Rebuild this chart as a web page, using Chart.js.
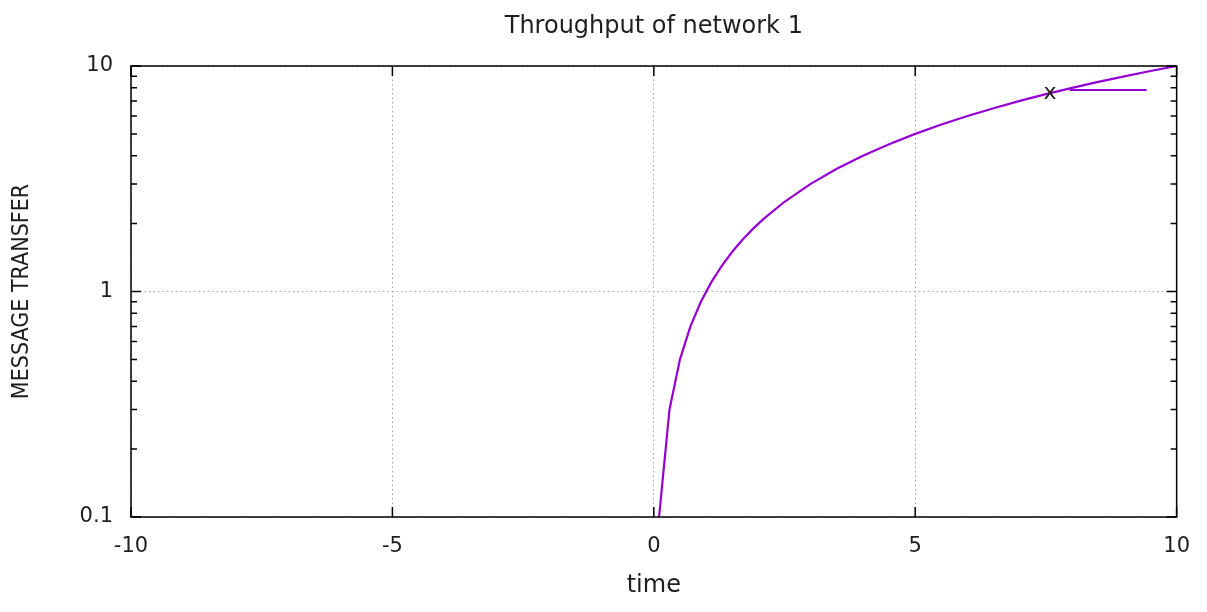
<!DOCTYPE html>
<html lang="en">
<head>
    <meta charset="UTF-8">
    <title>Throughput of network 1</title>
    <script src="https://cdn.jsdelivr.net/npm/chart.js"></script>
    <style>
        body { margin: 0; background: #fff; }
        #wrap { width: 1207px; height: 612px; }
    </style>
</head>
<body>
    <div id="wrap"><canvas id="throughputChart" width="1207" height="612"></canvas></div>

    <script>
        // values
        const timeValues = [0.1, 0.3, 0.5, 0.7, 0.9, 1.1, 1.3, 1.5, 1.7, 1.9, 2.1, 2.5, 3, 3.5, 4, 4.5, 5, 5.5, 6, 6.5, 7, 7.5, 8, 8.5, 9, 9.5, 10];
        const transferValues = [0.1, 0.3, 0.5, 0.7, 0.9, 1.1, 1.3, 1.5, 1.7, 1.9, 2.1, 2.5, 3, 3.5, 4, 4.5, 5, 5.5, 6, 6.5, 7, 7.5, 8, 8.5, 9, 9.5, 10];
        const xTickValues = [-10, -5, 0, 5, 10];
        const yMajorTicks = [0.1, 1, 10];
        const yMinorTicks = [0.2, 0.3, 0.4, 0.5, 0.6, 0.7, 0.8, 0.9, 2, 3, 4, 5, 6, 7, 8, 9];
        const seriesLabel = 'x';
        const chartTitle = 'Throughput of network 1';

        const points = timeValues.map((t, i) => ({ x: t, y: transferValues[i] }));
        const purple = '#9400d3';
        const font = 'DejaVu Sans';
        const ink = '#1e1e1e';

        // gnuplot style frame, inward ticks, title and key
        const framePlugin = {
            id: 'frame',
            afterDatasetsDraw(chart) {
                const { ctx, chartArea: a, scales: { x, y } } = chart;
                ctx.save();
                ctx.strokeStyle = '#000';
                ctx.lineWidth = 1.5;
                ctx.beginPath();
                xTickValues.forEach(v => {
                    const px = x.getPixelForValue(v);
                    ctx.moveTo(px, a.bottom); ctx.lineTo(px, a.bottom - 10);
                    ctx.moveTo(px, a.top); ctx.lineTo(px, a.top + 10);
                });
                yMajorTicks.forEach(v => {
                    const py = y.getPixelForValue(v);
                    ctx.moveTo(a.left, py); ctx.lineTo(a.left + 10, py);
                    ctx.moveTo(a.right, py); ctx.lineTo(a.right - 10, py);
                });
                yMinorTicks.forEach(v => {
                    const py = y.getPixelForValue(v);
                    ctx.moveTo(a.left, py); ctx.lineTo(a.left + 6, py);
                    ctx.moveTo(a.right, py); ctx.lineTo(a.right - 6, py);
                });
                ctx.stroke();
                ctx.strokeRect(a.left, a.top, a.right - a.left, a.bottom - a.top);

                // title, centred over the plot area
                ctx.fillStyle = ink;
                ctx.textAlign = 'center';
                ctx.textBaseline = 'middle';
                ctx.font = '24px "' + font + '"';
                ctx.fillText(chartTitle, (a.left + a.right) / 2, 27);

                // key
                ctx.font = '22px "' + font + '"';
                ctx.textAlign = 'right';
                ctx.fillText(chart.data.datasets[0].label, a.right - 120, a.top + 27);
                ctx.strokeStyle = purple;
                ctx.lineWidth = 2;
                ctx.beginPath();
                ctx.moveTo(a.right - 107, a.top + 24);
                ctx.lineTo(a.right - 30, a.top + 24);
                ctx.stroke();
                ctx.restore();
            }
        };

        new Chart(document.getElementById('throughputChart'), {
            type: 'scatter',
            data: {
                datasets: [{
                    label: seriesLabel,
                    data: points,
                    showLine: true,
                    borderColor: purple,
                    borderWidth: 2.2,
                    pointRadius: 0,
                    tension: 0
                }]
            },
            options: {
                responsive: false,
                animation: false,
                layout: { padding: { left: 0, right: 28, top: 66, bottom: 0 } },
                plugins: {
                    legend: { display: false },
                    tooltip: { enabled: false },
                    title: { display: false }
                },
                scales: {
                    x: {
                        type: 'linear',
                        min: -10,
                        max: 10,
                        afterBuildTicks: s => { s.ticks = xTickValues.map(v => ({ value: v })); },
                        afterFit: s => { s.height = 95; },
                        ticks: {
                            color: ink,
                            padding: 17,
                            maxRotation: 0,
                            font: { family: font, size: 21 },
                            callback: v => String(v)
                        },
                        grid: { color: '#a0a0a0', lineWidth: 1, drawTicks: false },
                        border: { display: false, dash: [1.5, 3] },
                        title: {
                            display: true,
                            text: 'time',
                            color: ink,
                            font: { family: font, size: 24, lineHeight: 1.2 },
                            padding: { top: 0, bottom: 12 }
                        }
                    },
                    y: {
                        type: 'logarithmic',
                        min: 0.1,
                        max: 10,
                        afterBuildTicks: s => { s.ticks = yMajorTicks.map(v => ({ value: v })); },
                        afterFit: s => { s.width = 131; },
                        ticks: {
                            color: ink,
                            padding: 18,
                            font: { family: font, size: 21 },
                            callback: v => String(v)
                        },
                        grid: { color: '#a0a0a0', lineWidth: 1, drawTicks: false },
                        border: { display: false, dash: [1.5, 3] },
                        title: {
                            display: true,
                            text: 'MESSAGE TRANSFER',
                            color: ink,
                            font: { family: 'DejaVu Sans Condensed', size: 23, lineHeight: 1.2 },
                            padding: { top: 8, bottom: 0 }
                        }
                    }
                }
            },
            plugins: [framePlugin]
        });
    </script>
</body>
</html>
